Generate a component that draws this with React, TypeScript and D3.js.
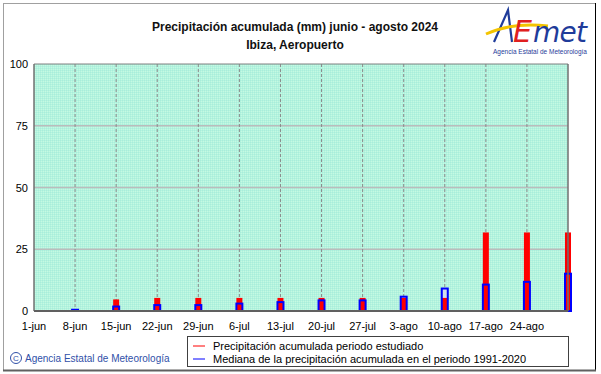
import React from 'react';
import * as d3 from 'd3';

// weekly tick labels (1-jun .. 24-ago)
const tickLabels = ['1-jun', '8-jun', '15-jun', '22-jun', '29-jun', '6-jul', '13-jul', '20-jul', '27-jul', '3-ago', '10-ago', '17-ago', '24-ago'];
const tickDates = ['2024-06-01', '2024-06-08', '2024-06-15', '2024-06-22', '2024-06-29', '2024-07-06', '2024-07-13', '2024-07-20', '2024-07-27', '2024-08-03', '2024-08-10', '2024-08-17', '2024-08-24'];
// bar dates (end of each week)
const barDates = ['2024-06-08', '2024-06-15', '2024-06-22', '2024-06-29', '2024-07-06', '2024-07-13', '2024-07-20', '2024-07-27', '2024-08-03', '2024-08-10', '2024-08-17', '2024-08-24', '2024-08-31'];
const observed = [0, 4.7, 5.3, 5.3, 5.3, 5.3, 5.3, 5.3, 5.3, 5.3, 31.8, 31.8, 31.8];
const median = [0.5, 1.8, 2.4, 2.4, 3.0, 3.6, 4.3, 4.3, 5.8, 9.1, 10.7, 11.8, 15.1];
const yTicks = [0, 25, 50, 75, 100];

const W = 601;
const H = 374;
const m = { left: 34, right: 568, top: 64, bottom: 311 };
const font = '"Liberation Sans", Arial, sans-serif';

const parse = d3.timeParse('%Y-%m-%d');

export default function App() {
  const x = d3
    .scaleTime()
    .domain([parse('2024-06-01')!, parse('2024-08-31')!])
    .range([m.left, m.right]);
  const y = d3.scaleLinear().domain([0, 100]).range([m.bottom, m.top]);

  const redW = 6;
  const blueW = 6;

  return (
    <div style={{ position: 'absolute', left: 0, top: 0 }}>
      <svg width={W} height={H} style={{ display: 'block', fontFamily: font }}>
        <defs>
          <pattern id="dither" width={2} height={2} patternUnits="userSpaceOnUse">
            <rect width={2} height={2} fill="#b4f4dc" />
            <rect width={1} height={1} fill="#a8ecdc" />
            <rect x={1} y={1} width={1} height={1} fill="#c4f8e4" />
          </pattern>
        </defs>
        <rect x={0} y={0} width={W} height={H} fill="#fff" />
        {/* outer frame */}
        <line x1={3} y1={3.5} x2={595} y2={3.5} stroke="#a0a0a0" />
        <line x1={3.5} y1={3} x2={3.5} y2={370} stroke="#a0a0a0" />
        <line x1={595.5} y1={3} x2={595.5} y2={371} stroke="#000" />
        <line x1={3} y1={370.5} x2={596} y2={370.5} stroke="#606060" strokeWidth={2} />

        {/* title */}
        <text x={295} y={31} textAnchor="middle" fontSize={12} fontWeight="bold" fill="#111">
          Precipitación acumulada (mm) junio - agosto 2024
        </text>
        <text x={295} y={49} textAnchor="middle" fontSize={12} fontWeight="bold" fill="#111">
          Ibiza, Aeropuerto
        </text>

        {/* logo */}
        <g>
          <path d="M494,42 L508,10 L512,42" fill="none" stroke="#1f3c9a" strokeWidth={2.2} />
          <path d="M486,34 Q512,22 548,26" fill="none" stroke="#f3c400" strokeWidth={3} />
          <text x={513} y={42} fontSize={30} fill="#e02020" fontStyle="italic" fontFamily="'DejaVu Sans', sans-serif">E</text>
          <text x={533} y={42} fontSize={28} fill="#1f3c9a" fontStyle="italic" fontFamily="'DejaVu Sans', sans-serif" textLength={54}>met</text>
          <text x={540} y={54} textAnchor="middle" fontSize={6.5} fill="#1f3c9a">Agencia Estatal de Meteorología</text>
        </g>

        {/* plot background */}
        <rect x={m.left} y={m.top} width={m.right - m.left} height={m.bottom - m.top} fill="url(#dither)" />

        {/* horizontal grid */}
        {yTicks.filter((t) => t > 0 && t < 100).map((t) => (
          <line key={t} x1={m.left} x2={m.right} y1={y(t)} y2={y(t)} stroke="#bcbcbc" strokeWidth={1.5} />
        ))}
        {/* vertical dashed grid */}
        {tickDates.slice(1).map((d) => (
          <line key={d} x1={x(parse(d)!)} x2={x(parse(d)!)} y1={m.top} y2={m.bottom} stroke="#8a8a8a" strokeDasharray="3,2" />
        ))}

        {/* median fill */}
        {barDates.map((d, i) => (
          <rect key={'mf' + d} x={x(parse(d)!) - blueW / 2} y={y(median[i])} width={blueW} height={m.bottom - y(median[i])} fill="#d4e0ea" />
        ))}
        {/* observed */}
        {barDates.map((d, i) => (
          <rect key={'o' + d} x={x(parse(d)!) - redW / 2} y={y(observed[i])} width={redW} height={m.bottom - y(observed[i])} fill="#ff0000" />
        ))}
        {/* median outline */}
        {barDates.map((d, i) => (
          <rect key={'mo' + d} x={x(parse(d)!) - blueW / 2} y={y(median[i])} width={blueW} height={m.bottom - y(median[i])} fill="none" stroke="#0000ff" strokeWidth={2} />
        ))}

        {/* plot frame */}
        <line x1={m.left} x2={m.right} y1={m.top} y2={m.top} stroke="#808080" />
        <line x1={m.left} x2={m.left} y1={m.top} y2={m.bottom} stroke="#707070" strokeWidth={1.5} />
        <line x1={m.right} x2={m.right} y1={m.top} y2={m.bottom} stroke="#707070" strokeWidth={1.5} />
        <line x1={m.left} x2={m.right} y1={m.bottom} y2={m.bottom} stroke="#606060" strokeWidth={2} />

        {/* y tick labels */}
        {yTicks.map((t) => (
          <text key={t} x={28} y={y(t) + 4} textAnchor="end" fontSize={11} fill="#000">{t}</text>
        ))}
        {/* x tick labels */}
        {tickDates.map((d, i) => (
          <text key={d} x={x(parse(d)!)} y={330} textAnchor="middle" fontSize={11} fill="#000">{tickLabels[i]}</text>
        ))}

        {/* legend */}
        <rect x={187.5} y={336.5} width={381} height={30} fill="#fff" stroke="#404040" />
        <line x1={193} x2={205} y1={346} y2={346} stroke="#ff0000" />
        <text x={213} y={350} fontSize={11} fill="#000">Precipitación acumulada periodo estudiado</text>
        <line x1={193} x2={205} y1={359} y2={359} stroke="#0000ff" />
        <text x={213} y={363} fontSize={11} fill="#000">Mediana de la precipitación acumulada en el periodo 1991-2020</text>

        {/* copyright */}
        <circle cx={16} cy={358} r={5.5} fill="none" stroke="#3050a8" />
        <text x={16} y={361} textAnchor="middle" fontSize={8} fill="#3050a8">C</text>
        <text x={25} y={362} fontSize={10} fill="#3050a8">Agencia Estatal de Meteorología</text>
      </svg>
    </div>
  );
}
